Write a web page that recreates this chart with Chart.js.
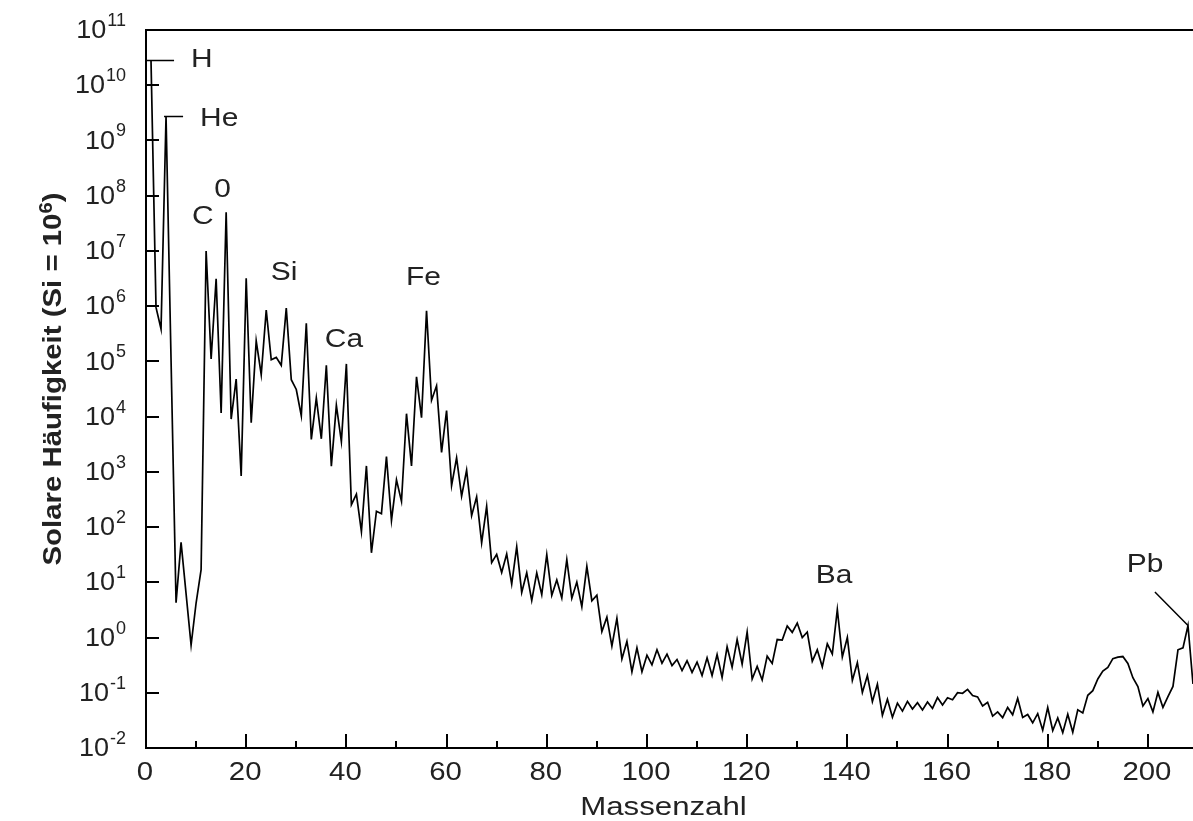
<!DOCTYPE html>
<html><head><meta charset="utf-8">
<script src="https://cdn.jsdelivr.net/npm/chart.js@4.4.1/dist/chart.umd.min.js"></script>
<style>html,body{margin:0;padding:0;background:#fff;overflow:hidden}#wrap{position:relative;width:1193px;height:821px}</style>
</head><body><div id="wrap"><canvas id="c"></canvas></div>
<script>
// Mass numbers (A) present in the curve
const massNumbers = [1,2,3,4,6,7,9,10,11,12,13,14,15,16,17,18,19,20,21,22,23,24,25,26,27,28,29,30,
31,32,33,34,35,36,37,38,39,40,41,42,43,44,45,46,47,48,49,50,51,52,53,54,55,56,57,58,59,60,
61,62,63,64,65,66,67,68,69,70,71,72,73,74,75,76,77,78,79,80,81,82,83,84,85,86,87,88,89,90,
91,92,93,94,95,96,97,98,99,100,101,102,103,104,105,106,107,108,109,110,111,112,113,114,115,116,117,118,119,120,
121,122,123,124,125,126,127,128,129,130,131,132,133,134,135,136,137,138,139,140,141,142,143,144,145,146,147,148,149,150,
151,152,153,154,155,156,157,158,159,160,161,162,163,164,165,166,167,168,169,170,171,172,173,174,175,176,177,178,179,180,
181,182,183,184,185,186,187,188,189,190,191,192,193,194,195,196,197,198,199,200,201,202,203,204,205,206,207,208,209];

// Solar abundance (Si = 1e6) for each mass number above
const abundances = [2.79e10,9.5e5,3.86e5,2.72e9,4.28,52.8,0.73,4.22,17.0,9.99e6,1.11e5,3.12e6,1.16e4,5.0e7,9.04e3,4.77e4,843,3.20e6,7.77e3,2.34e5,5.74e4,8.48e5,1.07e5,1.18e5,8.49e4,9.22e5,4.67e4,3.10e4,
1.04e4,4.89e5,3.86e3,2.17e4,3.97e3,8.5e4,1.27e3,1.6e4,3.52e3,9.0e4,254,395,82.5,1280,34.2,194,175,1885,132,718,292,1.13e4,1280,5.25e4,9550,8.25e5,1.98e4,3.61e4,2250,1.29e4,
562,1790,361,1070,161,352,51.7,237,22.7,32,15.1,32.6,9.3,44,6.56,14.9,4.7,14.8,5.98,31.8,5.82,11.0,5.2,25.8,5.12,10.1,3.62,19.4,4.64,5.87,
1.28,2.34,0.698,2.22,0.41,0.85,0.24,0.65,0.24,0.48,0.32,0.60,0.344,0.50,0.31,0.40,0.252,0.38,0.234,0.36,0.206,0.43,0.205,0.49,0.19,0.68,0.29,0.92,0.33,1.26,
0.177,0.30,0.17,0.46,0.34,0.92,0.90,1.62,1.24,1.83,1.0,1.26,0.372,0.60,0.296,0.77,0.504,3.22,0.446,1.005,0.167,0.35,0.101,0.205,0.069,0.143,0.039,0.076,0.036,0.065,
0.0465,0.070,0.0508,0.066,0.049,0.068,0.052,0.082,0.0603,0.081,0.0746,0.1005,0.098,0.115,0.0889,0.084,0.0576,0.0672,0.0378,0.045,0.0355,0.0543,0.040,0.0789,0.0357,0.0405,0.0286,0.042,0.021,0.054,
0.0207,0.035,0.019,0.041,0.0193,0.049,0.043,0.090,0.109,0.178,0.247,0.288,0.414,0.441,0.453,0.339,0.187,0.13,0.0575,0.0785,0.045,0.1017,0.0543,0.085,0.13,0.60,0.65,1.65,0.144];

const yTickExponents = [-2,-1,0,1,2,3,4,5,6,7,8,9,10,11];
const xTickLabels = [0,20,40,60,80,100,120,140,160,180,200];
const xMinorTicks = [10,30,50,70,90,110,130,150,170,190];

const elementNames = ['H','He','C','0','Si','Ca','Fe','Ba','Pb'];
const labelMass = [9.0,10.8,9.2,13.6,24.9,35.7,51.9,133.7,195.8];
const labelValue = [2.86e10,2.45e9,4.1e7,1.27e8,4.0e6,2.44e5,3.24e6,13,20.6];

const leaderFrom = [[0.2,2.79e10],[3.6,2.72e9],[201.4,6.7]];
const leaderTo = [[5.6,2.79e10],[7.4,2.72e9],[208,1.65]];

const xTitle = 'Massenzahl';
const yTitleMain = 'Solare Häufigkeit (Si = 10';
const yTitleSup = '6';
const yTitleEnd = ')';

const FONT = "'Liberation Sans', Arial, sans-serif";

function drawStretched(ctx, text, x, y, font, sx, align, baseline) {
  ctx.save();
  ctx.font = font;
  ctx.textBaseline = baseline || 'middle';
  ctx.textAlign = 'left';
  const w = ctx.measureText(text).width * sx;
  let x0 = x;
  if (align === 'center') x0 = x - w / 2;
  else if (align === 'right') x0 = x - w;
  ctx.translate(x0, y);
  ctx.scale(sx, 1);
  ctx.fillText(text, 0, 0);
  ctx.restore();
  return w;
}

const decorPlugin = {
  id: 'decor',
  afterDatasetsDraw(chart) {
    const ctx = chart.ctx;
    const xs = chart.scales.x, ys = chart.scales.y;
    const a = chart.chartArea;
    ctx.save();
    ctx.strokeStyle = '#000';
    ctx.fillStyle = '#000';
    ctx.lineWidth = 2;
    ctx.lineCap = 'butt';
    ctx.beginPath();
    ctx.moveTo(a.right + 2, a.top); ctx.lineTo(a.left, a.top); ctx.lineTo(a.left, a.bottom); ctx.lineTo(a.right + 2, a.bottom);
    ctx.stroke();
    ctx.beginPath();
    yTickExponents.forEach(e => {
      if (e <= -2 || e >= 11) return;
      const y = Math.round(ys.getPixelForValue(Math.pow(10, e)));
      ctx.moveTo(a.left, y); ctx.lineTo(a.left + 13, y);
    });
    xTickLabels.forEach(v => {
      if (v === 0) return;
      const x = Math.round(xs.getPixelForValue(v));
      ctx.moveTo(x, a.bottom); ctx.lineTo(x, a.bottom - 14);
    });
    xMinorTicks.forEach(v => {
      const x = Math.round(xs.getPixelForValue(v));
      ctx.moveTo(x, a.bottom); ctx.lineTo(x, a.bottom - 7);
    });
    ctx.stroke();

    ctx.lineWidth = 1.5;
    ctx.beginPath();
    leaderFrom.forEach((p, i) => {
      const q = leaderTo[i];
      ctx.moveTo(xs.getPixelForValue(p[0]), ys.getPixelForValue(p[1]));
      ctx.lineTo(xs.getPixelForValue(q[0]), ys.getPixelForValue(q[1]));
    });
    ctx.stroke();

    ctx.fillStyle = '#222';
    yTickExponents.forEach(e => {
      const y = ys.getPixelForValue(Math.pow(10, e));
      ctx.font = '18px ' + FONT;
      const we = ctx.measureText(String(e)).width;
      const right = 126;
      drawStretched(ctx, String(e), right - we, y - 4, '18px ' + FONT, 1, 'left', 'alphabetic');
      drawStretched(ctx, '10', right - we - 1, y + 1, '26px ' + FONT, 1.04, 'right', 'middle');
    });
    xTickLabels.forEach(v => {
      const x = xs.getPixelForValue(v);
      drawStretched(ctx, String(v), x - 1, a.bottom + 25, '26px ' + FONT, 1.13, 'center', 'middle');
    });
    drawStretched(ctx, xTitle, (a.left + a.right) / 2 - 6, a.bottom + 60, '26px ' + FONT, 1.2, 'center', 'middle');

    elementNames.forEach((t, i) => {
      const x = xs.getPixelForValue(labelMass[i]);
      const y = ys.getPixelForValue(labelValue[i]);
      drawStretched(ctx, t, x, y, '26px ' + FONT, 1.15, 'left', 'middle');
    });

    ctx.save();
    ctx.translate(54, 379);
    ctx.rotate(-Math.PI / 2);
    const sx = 1.13;
    ctx.font = 'bold 26px ' + FONT;
    const w1 = ctx.measureText(yTitleMain).width * sx;
    ctx.font = 'bold 18px ' + FONT;
    const w2 = ctx.measureText(yTitleSup).width * sx;
    ctx.font = 'bold 26px ' + FONT;
    const w3 = ctx.measureText(yTitleEnd).width * sx;
    let x0 = -(w1 + w2 + w3) / 2;
    drawStretched(ctx, yTitleMain, x0, 0, 'bold 26px ' + FONT, sx, 'left', 'middle');
    drawStretched(ctx, yTitleSup, x0 + w1, -2, 'bold 18px ' + FONT, sx, 'left', 'alphabetic');
    drawStretched(ctx, yTitleEnd, x0 + w1 + w2, 0, 'bold 26px ' + FONT, sx, 'left', 'middle');
    ctx.restore();

    ctx.restore();
  }
};

new Chart(document.getElementById('c'), {
  type: 'line',
  data: {
    datasets: [{
      data: massNumbers.map((m, i) => ({ x: m, y: abundances[i] })),
      borderColor: '#000',
      borderWidth: 1.7,
      pointRadius: 0,
      fill: false,
      tension: 0
    }]
  },
  options: {
    animation: false,
    responsive: true,
    maintainAspectRatio: false,
    layout: { padding: { left: 146, top: 30, right: 0, bottom: 73 } },
    plugins: { legend: { display: false }, tooltip: { enabled: false } },
    scales: {
      x: { type: 'linear', display: false, min: 0, max: 209 },
      y: { type: 'logarithmic', display: false, min: 0.01, max: 1e11 }
    }
  },
  plugins: [decorPlugin]
});
</script>
</body></html>
